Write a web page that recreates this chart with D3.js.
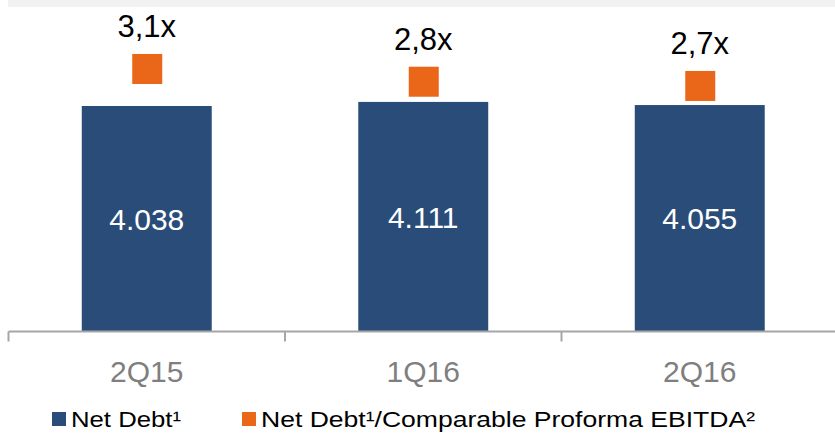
<!DOCTYPE html>
<html>
<head>
<meta charset="utf-8">
<script src="https://cdn.jsdelivr.net/npm/d3@7/dist/d3.min.js"></script>
<style>
  html, body { margin: 0; padding: 0; background: #ffffff; }
  svg { display: block; font-family: "Liberation Sans", Arial, sans-serif; }
</style>
</head>
<body>
<svg id="chart" width="835" height="434"></svg>
<script>
const categories = ["2Q15", "1Q16", "2Q16"];
const netDebt = [4038, 4111, 4055];
const netDebtLabels = ["4.038", "4.111", "4.055"];
const ratio = [3.1, 2.8, 2.7];
const ratioLabels = ["3,1x", "2,8x", "2,7x"];
const legendLabels = ["Net Debt\u00B9", "Net Debt\u00B9/Comparable Proforma EBITDA\u00B2"];

const svg = d3.select("#chart");
const W = 835, H = 434;
const blue = "#294d78", orange = "#ea6619";
const baseY = 331.5, topY = 7.6;

// top gray band
svg.append("rect").attr("x", 8).attr("y", 0).attr("width", W - 8).attr("height", 7).attr("fill", "#f2f2f2");

const x = d3.scaleBand().domain(categories).range([8.5, 838]).paddingInner(0.53).paddingOuter(0.265);
const y = d3.scaleLinear().domain([0, 5800]).range([baseY, topY]);
const y2 = d3.scaleLinear().domain([-3.08, 4.545]).range([baseY, topY]);

// bars
svg.selectAll(".bar").data(categories).enter().append("rect")
  .attr("x", d => x(d))
  .attr("y", (d, i) => y(netDebt[i]))
  .attr("width", x.bandwidth())
  .attr("height", (d, i) => baseY - y(netDebt[i]))
  .attr("fill", blue);

// bar labels
svg.selectAll(".blab").data(categories).enter().append("text")
  .attr("x", d => x(d) + x.bandwidth() / 2)
  .attr("y", (d, i) => (y(netDebt[i]) + baseY) / 2 + 11)
  .attr("text-anchor", "middle")
  .attr("fill", "#ffffff")
  .attr("font-size", 30)
  .text((d, i) => netDebtLabels[i]);

// axis line and ticks
const step = x.step();
const boundaries = [0, 1, 2, 3].map(k => 8.5 + k * step);
svg.append("line").attr("x1", 8.5).attr("x2", W).attr("y1", baseY).attr("y2", baseY)
  .attr("stroke", "#a6a6a6").attr("stroke-width", 2);
svg.selectAll(".tick").data(boundaries).enter().append("line")
  .attr("x1", d => d).attr("x2", d => d).attr("y1", baseY).attr("y2", baseY + 10)
  .attr("stroke", "#a6a6a6").attr("stroke-width", 2);

// category labels
svg.selectAll(".clab").data(categories).enter().append("text")
  .attr("x", d => x(d) + x.bandwidth() / 2)
  .attr("y", 381.5)
  .attr("text-anchor", "middle")
  .attr("fill", "#7f7f7f")
  .attr("font-size", 30)
  .text(d => d);

// ratio squares
const sq = 30;
svg.selectAll(".sq").data(categories).enter().append("rect")
  .attr("x", d => x(d) + x.bandwidth() / 2 - sq / 2 + 0.5)
  .attr("y", (d, i) => y2(ratio[i]) - sq / 2)
  .attr("width", sq).attr("height", sq)
  .attr("fill", orange);

svg.selectAll(".rlab").data(categories).enter().append("text")
  .attr("x", d => x(d) + x.bandwidth() / 2)
  .attr("y", (d, i) => y2(ratio[i]) - sq / 2 - 16.5)
  .attr("text-anchor", "middle")
  .attr("fill", "#000000")
  .attr("font-size", 31)
  .text((d, i) => ratioLabels[i]);

// legend
const legend = [
  { label: legendLabels[0], color: blue, x: 52, w: 110 },
  { label: legendLabels[1], color: orange, x: 242, w: 494 }
];
const lg = svg.selectAll(".lg").data(legend).enter().append("g")
  .attr("transform", d => `translate(${d.x},0)`);
lg.append("rect").attr("x", 0).attr("y", 412).attr("width", 14).attr("height", 14).attr("fill", d => d.color);
lg.append("text").attr("x", 19).attr("y", 427).attr("font-size", 22.5).attr("fill", "#000")
  .attr("textLength", d => d.w).attr("lengthAdjust", "spacingAndGlyphs")
  .text(d => d.label);
</script>
</body>
</html>
